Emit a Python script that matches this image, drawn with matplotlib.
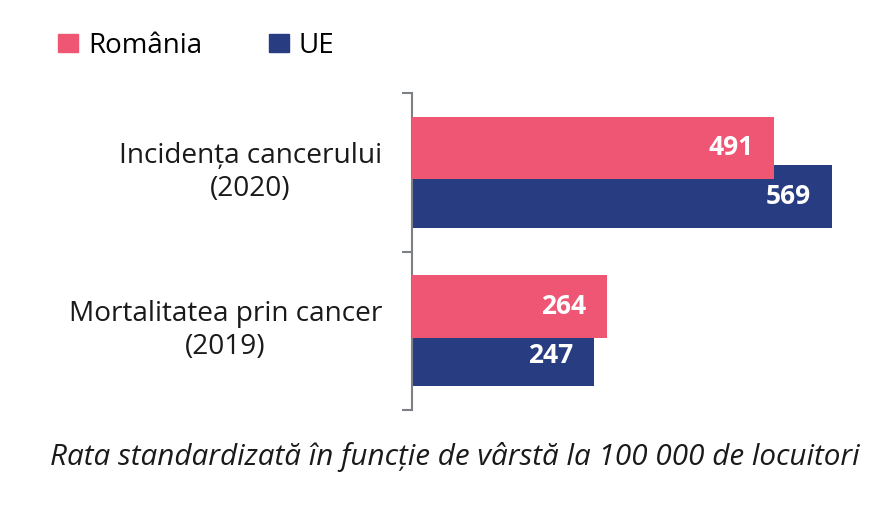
import matplotlib
matplotlib.use("Agg")
import matplotlib.pyplot as plt
from matplotlib.patches import Patch

plt.rcParams["font.family"] = ["Open Sans", "DejaVu Sans"]

CATEGORIES = ["Incidența cancerului\n(2020)", "Mortalitatea prin cancer\n(2019)"]
SERIES = ["România", "UE"]
ROMANIA = [491, 264]
UE = [569, 247]
FOOTER = "Rata standardizată în funcție de vârstă la 100 000 de locuitori"

PINK = "#EE5674"
NAVY = "#283C82"
SPINE = "#7d8084"

W, H = 895, 505
fig = plt.figure(figsize=(W / 100, H / 100), dpi=100)
ax = fig.add_axes([412 / W, 1 - 410 / H, 468 / W, 317 / H])

pos = list(range(len(CATEGORIES)))
off, bh = 0.153, 0.397
ax.barh([p + off for p in pos], UE, height=bh, color=NAVY, zorder=2)
ax.barh([p - off for p in pos], ROMANIA, height=bh, color=PINK, zorder=3)

for p, v in zip(pos, ROMANIA):
    ax.annotate(str(v), (v, p - off), xytext=(-15, 0), textcoords="offset points",
                ha="right", va="center", color="white", fontsize=19, fontweight="bold", zorder=5)
for p, v in zip(pos, UE):
    ax.annotate(str(v), (v, p + off), xytext=(-15, 0), textcoords="offset points",
                ha="right", va="center", color="white", fontsize=19, fontweight="bold", zorder=5)

for p, lab in zip(pos, CATEGORIES):
    ax.annotate(lab, (0, p), xytext=(-21.5, 0), textcoords="offset points",
                ha="right", va="center", multialignment="center", fontsize=20.2,
                color="#1a1a1a", linespacing=1.25)

ax.set_xlim(0, 634)
ax.set_ylim(len(CATEGORIES) - 0.5, -0.5)
ax.set_yticks([-0.5, 0.5, 1.5])
ax.set_yticklabels([])
ax.set_xticks([])
ax.tick_params(axis="y", direction="out", length=7, width=1.5, color=SPINE)
for s in ["top", "right", "bottom"]:
    ax.spines[s].set_visible(False)
ax.spines["left"].set_color(SPINE)
ax.spines["left"].set_linewidth(1.5)

handles = [Patch(color=PINK), Patch(color=NAVY)]
fig.legend(handles, SERIES, loc="center left", bbox_to_anchor=(58 / W, 1 - 46 / H),
           ncol=2, frameon=False, fontsize=20, borderpad=0, borderaxespad=0,
           handlelength=0.72, handleheight=0.64, handletextpad=0.36, columnspacing=2.4)

fig.text(455 / W, 1 - 457 / H, FOOTER, ha="center", va="center", fontsize=21.3,
         style="italic", color="#1a1a1a")

fig.savefig("out.png", dpi=100)
